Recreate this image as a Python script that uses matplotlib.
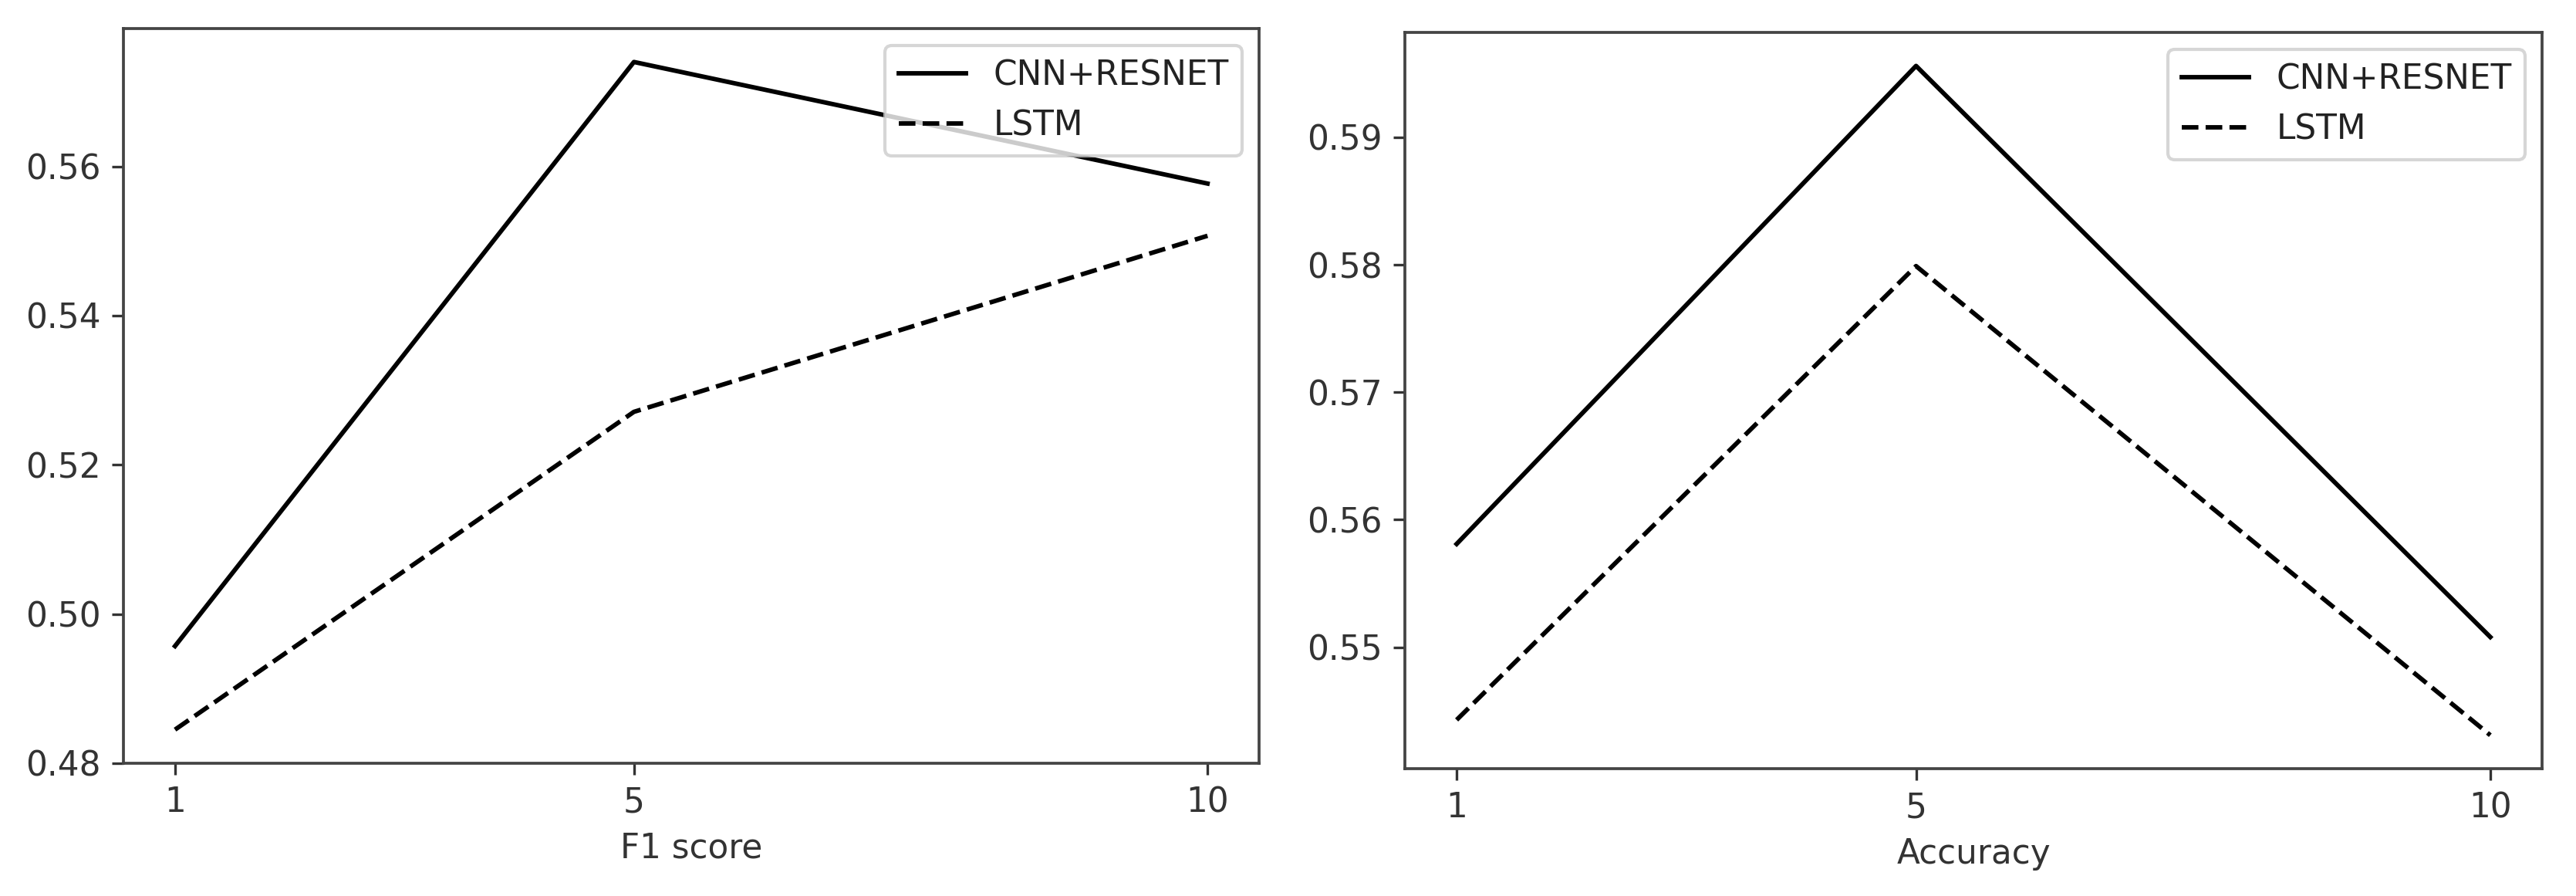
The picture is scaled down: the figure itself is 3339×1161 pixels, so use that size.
import matplotlib
matplotlib.use("Agg")
import matplotlib.pyplot as plt

# values
epochs = [1, 5, 10]
f1_cnn = [0.4957, 0.5740, 0.5577]
f1_lstm = [0.4845, 0.5271, 0.5507]
acc_cnn = [0.5581, 0.5956, 0.5508]
acc_lstm = [0.5443, 0.5799, 0.5431]

f1_ticks = [0.48, 0.50, 0.52, 0.54, 0.56]
acc_ticks = [0.55, 0.56, 0.57, 0.58, 0.59]

plt.rcParams["font.size"] = 10.5
plt.rcParams["text.color"] = "#222222"
plt.rcParams["xtick.color"] = "#333333"
plt.rcParams["ytick.color"] = "#333333"

fig = plt.figure(figsize=(11.13, 3.87), dpi=300)
ax1 = fig.add_axes([0.0479, 0.1482, 0.4409, 0.8199])
ax2 = fig.add_axes([0.5454, 0.1421, 0.4414, 0.8217])

panels = [
    (ax1, f1_cnn, f1_lstm, f1_ticks, "F1 score"),
    (ax2, acc_cnn, acc_lstm, acc_ticks, "Accuracy"),
]

for ax, cnn, lstm, yt, label in panels:
    ax.plot(epochs, cnn, color="black", linewidth=1.4, label="CNN+RESNET")
    ax.plot(epochs, lstm, color="black", linewidth=1.4, linestyle="--", label="LSTM")
    ax.set_xticks(epochs)
    ax.set_yticks(yt)
    ax.set_yticklabels(["%.2f" % v for v in yt])
    ax.set_xlabel(label, color="#333333")
    for s in ax.spines.values():
        s.set_color("#444444")
        s.set_linewidth(0.9)
    ax.legend(loc="upper right")

fig.savefig("out.png", dpi=300)
